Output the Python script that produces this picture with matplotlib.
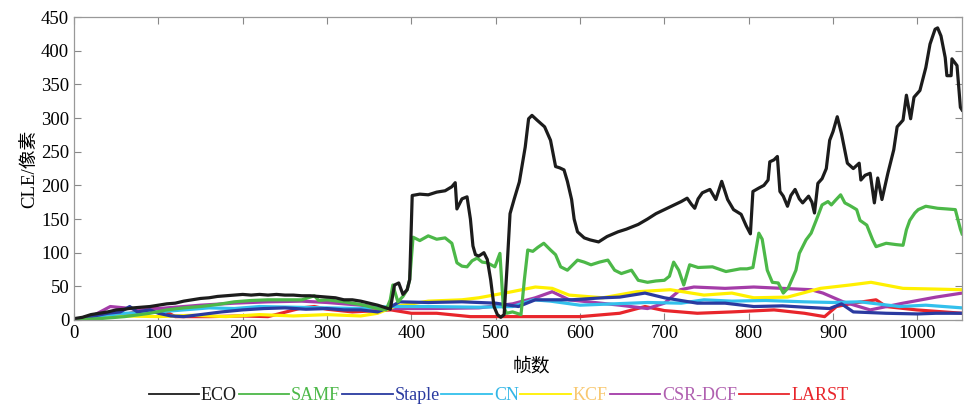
import matplotlib
matplotlib.use("Agg")
import matplotlib.pyplot as plt

plt.rcParams['font.family'] = ['Liberation Serif', 'Noto Sans CJK SC']
plt.rcParams['axes.unicode_minus'] = False

# ECO
eco_frames = [0, 10, 20, 30, 40, 50, 60, 70, 80, 90, 100, 110, 120, 130, 140, 150, 160, 170, 180, 190,
              200, 210, 220, 230, 240, 250, 260, 270, 280, 290, 300, 310, 320, 330, 340, 350, 360, 370,
              375, 380, 385, 390, 395, 398, 401, 410, 420, 430, 440, 448, 452, 454, 460, 466, 470, 473,
              476, 480, 486, 490, 494, 498, 502, 506, 510, 514, 517, 522, 528, 535, 539, 543, 549, 558,
              565, 571, 576, 581, 585, 590, 593, 597, 605, 612, 622, 632, 645, 655, 669, 680, 690, 700,
              710, 720, 727, 732, 736, 740, 745, 754, 761, 768, 775, 782, 791, 797, 802, 805, 812, 818,
              823, 825, 830, 834, 837, 841, 846, 850, 855, 860, 864, 871, 875, 878, 882, 887, 892, 896,
              900, 905, 910, 917, 924, 931, 933, 938, 944, 949, 953, 958, 965, 972, 976, 983, 987, 992,
              996, 1003, 1010, 1015, 1021, 1024, 1028, 1033, 1035, 1040, 1041, 1047, 1051, 1053]
eco_vals = [2, 4, 8, 10, 12, 15, 16, 18, 19, 20, 22, 24, 25, 28, 30, 32, 33, 35, 36, 37,
            38, 37, 38, 37, 38, 37, 37, 36, 36, 35, 34, 33, 30, 30, 28, 25, 22, 18,
            16, 52, 55, 38, 45, 60, 185, 187, 186, 190, 192, 198, 204, 165, 180, 183, 150, 110,
            97, 95, 100, 90, 60, 20, 8, 4, 8, 90, 158, 180, 205, 257, 299, 304, 297, 287,
            267, 228, 226, 223, 206, 179, 150, 131, 122, 119, 116, 124, 131, 135, 142, 150, 158, 164,
            170, 176, 181, 172, 166, 180, 189, 194, 179, 206, 179, 164, 157, 140, 128, 191, 196, 200,
            208, 235, 238, 243, 191, 184, 169, 185, 194, 180, 174, 184, 175, 159, 203, 210, 225, 267,
            280, 302, 277, 233, 225, 233, 208, 215, 218, 174, 211, 179, 218, 253, 287, 297, 334, 299,
            331, 341, 375, 410, 432, 434, 422, 390, 363, 363, 388, 378, 316, 312]

# SAMF
samf_frames = [0, 30, 60, 90, 110, 130, 150, 170, 190, 210, 230, 250, 270, 285, 290, 300, 320, 340, 350,
               360, 370, 375, 378, 384, 390, 395, 398, 402, 410, 420, 430, 440, 448, 454, 460, 466, 472,
               478, 484, 490, 499, 505, 509, 513, 520, 530, 534, 538, 544, 550, 557, 565, 571, 577, 585,
               597, 605, 613, 623, 633, 641, 649, 661, 669, 680, 690, 700, 706, 711, 717, 723, 730, 740,
               757, 773, 790, 798, 805, 812, 816, 822, 828, 835, 841, 847, 856, 860, 868, 874, 880, 887,
               894, 898, 903, 909, 914, 920, 928, 932, 940, 947, 951, 963, 975, 983, 987, 991, 997, 1001,
               1010, 1024, 1035, 1045, 1051, 1053]
samf_vals = [0, 2, 5, 10, 15, 18, 20, 23, 27, 29, 30, 30, 30, 36, 29, 30, 27, 23, 20,
             17, 15, 30, 52, 27, 35, 45, 60, 123, 118, 125, 120, 122, 114, 85, 80, 79, 88,
             92, 86, 85, 79, 99, 20, 10, 12, 8, 60, 104, 102, 108, 114, 104, 97, 79, 74,
             89, 86, 82, 86, 89, 74, 69, 74, 59, 56, 58, 59, 65, 86, 74, 52, 82, 78,
             79, 72, 76, 76, 78, 129, 120, 74, 56, 55, 40, 48, 74, 99, 119, 129, 148, 171,
             176, 171, 178, 186, 174, 170, 164, 148, 141, 119, 109, 114, 112, 111, 134, 148, 159, 164,
             169, 166, 165, 164, 135, 128]

# Staple
staple_frames = [0, 20, 40, 55, 66, 75, 90, 100, 115, 130, 150, 175, 200, 225, 250, 275, 300, 320, 340,
                 360, 376, 386, 420, 460, 500, 527, 547, 590, 627, 647, 677, 700, 739, 772, 806, 840, 866,
                 896, 910, 924, 963, 1000, 1022, 1053]
staple_vals = [0, 5, 10, 12, 20, 12, 15, 10, 6, 5, 8, 12, 15, 17, 18, 16, 17, 15, 15,
               12, 20, 27, 26, 27, 25, 20, 30, 30, 33, 34, 40, 33, 25, 25, 20, 21, 19,
               17, 24, 12, 10, 9, 10, 10]

# CN
cn_frames = [0, 30, 60, 100, 130, 160, 190, 220, 260, 300, 340, 376, 420, 480, 520, 545, 565, 600,
             640, 680, 720, 747, 780, 820, 866, 900, 932, 979, 1010, 1053]
cn_vals = [0, 6, 10, 12, 15, 18, 17, 20, 19, 18, 17, 20, 20, 19, 20, 30, 28, 22,
           24, 26, 25, 30, 28, 29, 27, 26, 27, 20, 22, 18]

# KCF
kcf_frames = [0, 30, 60, 100, 140, 180, 220, 260, 300, 340, 360, 380, 420, 460, 480, 519, 547, 567,
              587, 627, 667, 707, 747, 780, 806, 846, 885, 920, 945, 983, 1020, 1053]
kcf_vals = [0, 3, 6, 5, 7, 5, 8, 6, 8, 6, 10, 20, 28, 30, 33, 42, 49, 47,
            37, 33, 42, 45, 37, 40, 33, 34, 47, 52, 56, 47, 46, 45]

# CSR-DCF
csr_frames = [0, 25, 43, 60, 80, 110, 150, 190, 230, 270, 300, 340, 376, 420, 480, 520, 547, 567,
              587, 647, 680, 700, 719, 735, 772, 806, 874, 888, 912, 944, 983, 1022, 1053]
csr_vals = [0, 8, 20, 18, 15, 18, 22, 25, 27, 28, 26, 22, 17, 17, 18, 24, 33, 42,
            30, 22, 17, 25, 45, 49, 47, 49, 45, 40, 27, 15, 25, 34, 40]

# LARST
larst_frames = [0, 30, 60, 83, 95, 105, 120, 160, 200, 230, 270, 285, 300, 330, 376, 400, 430, 470,
                520, 560, 600, 647, 677, 700, 739, 780, 830, 866, 890, 904, 924, 951, 963, 999, 1053]
larst_vals = [0, 5, 8, 15, 20, 15, 5, 5, 6, 5, 18, 20, 16, 12, 15, 10, 10, 5,
              5, 5, 5, 10, 20, 14, 10, 12, 15, 10, 5, 20, 25, 30, 20, 15, 10]

series = [
    ('ECO', eco_frames, eco_vals, '#1c1c1c', '#1c1c1c'),
    ('SAMF', samf_frames, samf_vals, '#4cb848', '#4cb848'),
    ('Staple', staple_frames, staple_vals, '#2a3aa0', '#2a3aa0'),
    ('CN', cn_frames, cn_vals, '#33c0ec', '#33b6e6'),
    ('KCF', kcf_frames, kcf_vals, '#fff000', '#f8c870'),
    ('CSR-DCF', csr_frames, csr_vals, '#a43ca8', '#b060b0'),
    ('LARST', larst_frames, larst_vals, '#e8252b', '#e8252b'),
]

fig = plt.figure(figsize=(9.64, 4.08), dpi=100)
ax = fig.add_axes([0.0768, 0.2157, 0.9212, 0.7423])

# low series first so ECO / SAMF sit on top like the original
order = [6, 5, 4, 3, 2, 1, 0]
lines = {}
for i in order:
    name, fr, vals, c, _ = series[i]
    ln, = ax.plot(fr, vals, color=c, lw=2.3, label=name)
    lines[name] = ln

ax.set_xlim(0, 1053)
ax.set_ylim(0, 450)
ax.set_xticks(range(0, 1001, 100))
ax.set_yticks(range(0, 451, 50))
ax.tick_params(direction='in', length=5, color='#888888', labelsize=13.5,
               top=True, right=True, width=0.8)
for sp in ax.spines.values():
    sp.set_color('#999999')
    sp.set_linewidth(0.9)

ax.set_xlabel('帧数', fontsize=13.5)
ax.xaxis.set_label_coords(0.515, -0.125)
ax.set_ylabel('CLE/像素', fontsize=13.5, labelpad=2)

handles = [lines[s[0]] for s in series]
leg = fig.legend(handles, [s[0] for s in series], loc='center', bbox_to_anchor=(0.517, 0.03),
                 ncol=7, frameon=False, fontsize=13, handlelength=2.8, handletextpad=0.1,
                 columnspacing=0.1)
for txt, s in zip(leg.get_texts(), series):
    txt.set_color(s[4])
for lh in leg.get_lines():
    lh.set_linewidth(1.3)

fig.savefig('out.png', dpi=100)
